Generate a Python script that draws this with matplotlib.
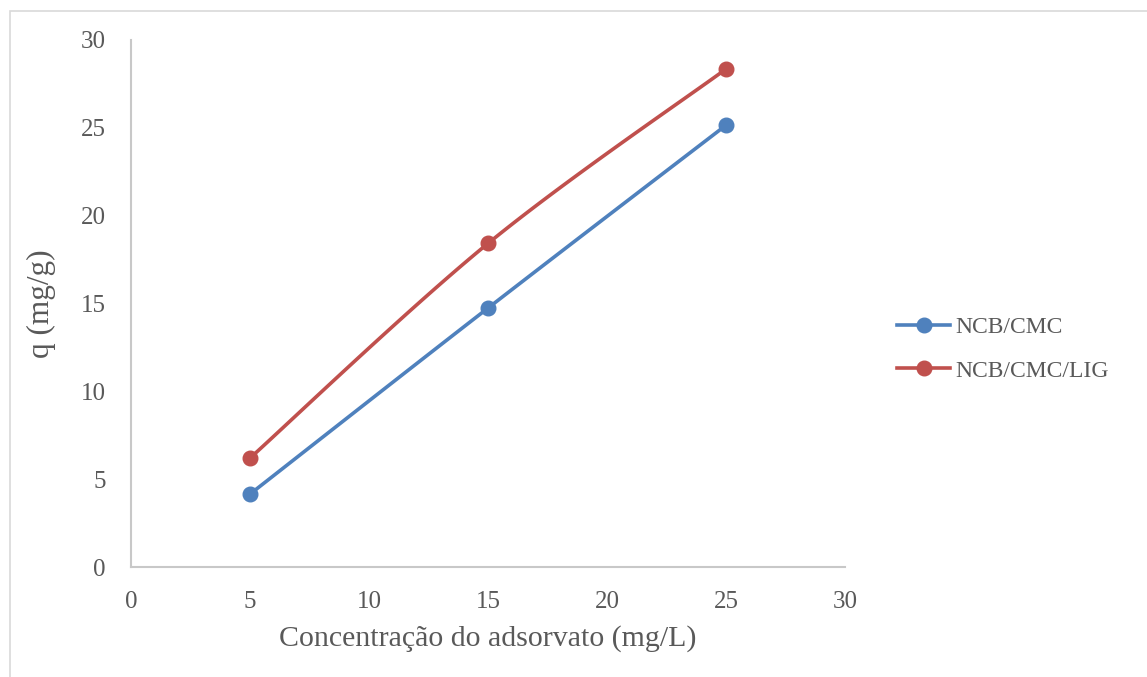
import numpy as np
import matplotlib.pyplot as plt
from matplotlib.lines import Line2D
from matplotlib.patches import Rectangle

# Data
conc = [5, 15, 25]
q_cmc = [4.15, 14.74, 25.15]
q_lig = [6.2, 18.42, 28.35]
series_names = ['NCB/CMC', 'NCB/CMC/LIG']
colors = ['#4F81BD', '#C0504D']

x_ticks = [0, 5, 10, 15, 20, 25, 30]
y_ticks = [0, 5, 10, 15, 20, 25, 30]

TEXT = '#595959'
GRID = '#C8C8C8'
FONT = ['Liberation Serif', 'DejaVu Serif']


def smooth(xs, ys, n=40):
    """Excel-like smoothed line: cubic Bezier through the points."""
    p = np.column_stack([xs, ys]).astype(float)
    ext = np.vstack([p[0], p, p[-1]])
    out = []
    t = np.linspace(0, 1, n)[:, None]
    for i in range(len(p) - 1):
        p0, p3 = p[i], p[i + 1]
        c1 = p0 + (ext[i + 2] - ext[i]) / 6
        c2 = p3 - (ext[i + 3] - ext[i + 1]) / 6
        seg = ((1 - t) ** 3) * p0 + 3 * ((1 - t) ** 2) * t * c1 + 3 * (1 - t) * t ** 2 * c2 + t ** 3 * p3
        out.append(seg)
    out = np.vstack(out)
    return out[:, 0], out[:, 1]


plt.rcParams['font.family'] = FONT

fig = plt.figure(figsize=(11.47, 6.77), dpi=100)
# thin frame of the chart area
fig.patches.append(Rectangle((10 / 1147, -0.1), 1.2, 1 - 11 / 677 + 0.1,
                             transform=fig.transFigure, fill=False,
                             edgecolor='#D9D9D9', linewidth=1.2))

ax = fig.add_axes([131 / 1147, 1 - 567 / 677, 714 / 1147, 527 / 677])

handles = []
for ys, name, c in zip([q_cmc, q_lig], series_names, colors):
    sx, sy = smooth(conc, ys)
    ax.plot(sx, sy, color=c, linewidth=2.6, solid_capstyle='round', zorder=2)
    ax.plot(conc, ys, 'o', color=c, markersize=10.5, zorder=3)
    handles.append(Line2D([], [], color=c, linewidth=2.6, marker='o', markersize=10.5))

ax.set_xlim(0, 30)
ax.set_ylim(0, 30)
ax.set_xticks(x_ticks)
ax.set_yticks(y_ticks)
ax.tick_params(length=0, labelsize=18, labelcolor=TEXT)
ax.tick_params(axis='x', pad=17)
ax.tick_params(axis='y', pad=18)

for side in ['top', 'right']:
    ax.spines[side].set_visible(False)
for side in ['left', 'bottom']:
    ax.spines[side].set_color(GRID)
    ax.spines[side].set_linewidth(1.5)

ax.set_xlabel('Concentração do adsorvato (mg/L)', fontsize=21.5, color=TEXT, labelpad=9)
ax.set_ylabel('q (mg/g)', fontsize=22.5, color=TEXT, labelpad=18)

leg = fig.legend(handles, series_names, loc='center left',
                 bbox_to_anchor=(876 / 1147, 1 - 349 / 677), frameon=False,
                 fontsize=17, labelcolor=TEXT, handlelength=2.25,
                 handletextpad=0.2, labelspacing=0.95)

fig.savefig('out.png', dpi=100)
